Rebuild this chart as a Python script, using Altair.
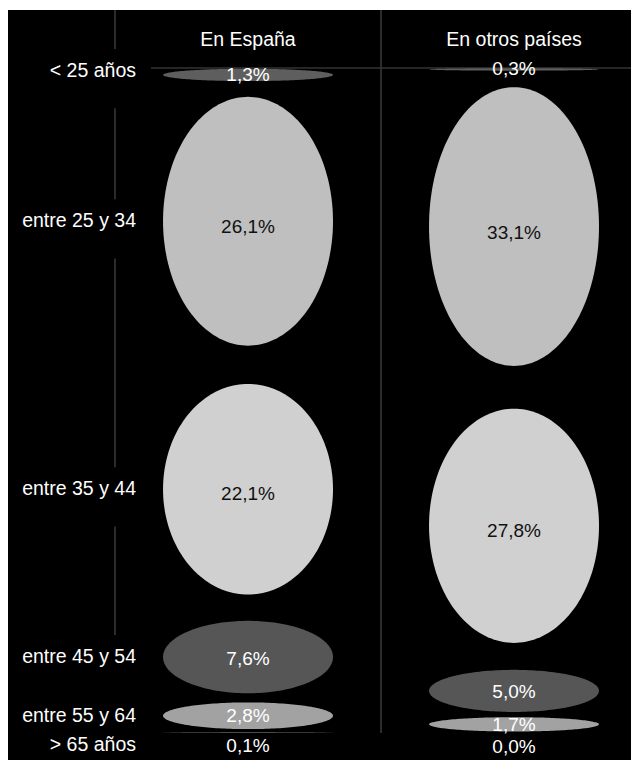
import altair as alt
import pandas as pd

# ---- data -------------------------------------------------------------
columns = ["En España", "En otros países"]
ages = ["< 25 años", "entre 25 y 34", "entre 35 y 44",
        "entre 45 y 54", "entre 55 y 64", "> 65 años"]
espana = [1.3, 26.1, 22.1, 7.6, 2.8, 0.1]
otros = [0.3, 33.1, 27.8, 5.0, 1.7, 0.0]

# ---- style ------------------------------------------------------------
fills = ["#5e5e5e", "#bfbfbf", "#d0d0d0", "#565656", "#a2a2a2", "#4a4a4a"]
FONT = "Liberation Sans"
W, H = 623, 750
X_DOM = [-0.9023, 1.4398]      # column units (columns at 0 and 1)
Y_DOM = [-0.0872, 1.0406]      # share of each column's total (stacked slots)
HALF_W = 0.3195                # ellipse half width in column units
FILL_FRAC = 0.86               # ellipse height as share of its slot
TOP_FRAC = 0.05                # gap above ellipse inside its slot
N = 90                         # outline samples per ellipse

rows = []
for ci, (col, vals) in enumerate(zip(columns, [espana, otros])):
    for ri, (age, v) in enumerate(zip(ages, vals)):
        rows.append(dict(col=col, ci=ci, ri=ri, age=age, value=v))
base_df = pd.DataFrame(rows)
ell_df = base_df.merge(pd.DataFrame({"k": list(range(N + 1))}), how="cross")

xs = alt.Scale(domain=X_DOM, nice=False, zero=False)
ys = alt.Scale(domain=Y_DOM, nice=False, zero=False, reverse=True)


def layout(ch, groupby):
    return (
        ch.transform_joinaggregate(total="sum(value)", groupby=groupby)
        .transform_window(cum="sum(value)", sort=[alt.SortField("ri")],
                          groupby=groupby, frame=[None, 0])
        .transform_calculate(
            slot="datum.value / datum.total",
            top="(datum.cum - datum.value) / datum.total",
        )
        .transform_calculate(
            mid="datum.top + datum.slot / 2",
            cy=f"datum.top + {TOP_FRAC + FILL_FRAC / 2} * datum.slot",
            ry=f"{FILL_FRAC / 2} * datum.slot",
        )
    )


# grid lines
vlines = pd.DataFrame({"x": [-0.5, 0.5], "y": [Y_DOM[0]] * 2, "y2": [1.0, 1.0]})
hline = pd.DataFrame({"x": [X_DOM[0]], "x2": [X_DOM[1]], "y": [0.0]})

vrule = alt.Chart(vlines).mark_rule(color="#2c2c2c", strokeWidth=2).encode(
    x=alt.X("x:Q", scale=xs, axis=None),
    y=alt.Y("y:Q", scale=ys, axis=None),
    y2="y2:Q",
)
hrule = alt.Chart(hline).mark_rule(color="#333333", strokeWidth=1.5).encode(
    x=alt.X("x:Q", scale=xs, axis=None),
    x2="x2:Q",
    y=alt.Y("y:Q", scale=ys, axis=None),
)

# row label positions (Spain column)
row_base = layout(alt.Chart(base_df), ["col"]).transform_filter(
    "datum.ci == 0"
).transform_calculate(
    ly="datum.cy + (datum.ri == 5 ? 0.0195 : 0) - (datum.ri == 0 ? 0.006 : 0)"
).transform_calculate(
    b1="datum.ly - 0.033",
    b2="datum.ly + 0.056",
)

# black boxes behind the row labels (they interrupt the grid lines)
label_boxes = row_base.mark_rect(color="black").encode(
    x=alt.value(0),
    x2=alt.value(143),
    y=alt.Y("b1:Q", scale=ys, axis=None),
    y2="b2:Q",
)

row_labels = row_base.mark_text(
    align="right", baseline="middle", font=FONT, fontSize=19.5, color="white",
).encode(
    x=alt.value(128),
    y=alt.Y("ly:Q", scale=ys, axis=None),
    text="age:N",
)

# ellipses
ellipses = layout(alt.Chart(ell_df), ["col", "k"]).transform_calculate(
    t=f"PI * datum.k / {N}",
).transform_calculate(
    ex=f"datum.ci + {HALF_W} * cos(datum.t)",
    ey="datum.cy - datum.ry * sin(datum.t)",
    ey2="datum.cy + datum.ry * sin(datum.t)",
).mark_area(strokeWidth=0).encode(
    x=alt.X("ex:Q", scale=xs, axis=None),
    y=alt.Y("ey:Q", scale=ys, axis=None, stack=None),
    y2="ey2:Q",
    color=alt.Color("age:N", scale=alt.Scale(domain=ages, range=fills), legend=None),
    detail="col:N",
)

# value labels
value_labels = layout(alt.Chart(base_df), ["col"]).transform_calculate(
    vy="datum.mid + (datum.ri == 5 ? 0.0205 : 0)",
    label="replace(format(datum.value, '.1f'), '.', ',') + '%'",
).mark_text(baseline="middle", align="center", font=FONT, fontSize=19).encode(
    x=alt.X("ci:Q", scale=xs, axis=None),
    y=alt.Y("vy:Q", scale=ys, axis=None),
    text="label:N",
    color=alt.condition("datum.ri == 1 || datum.ri == 2",
                        alt.value("#111111"), alt.value("white")),
)

# column headers
head_df = pd.DataFrame({"col": columns, "ci": [0, 1]})
headers = alt.Chart(head_df).mark_text(
    baseline="middle", align="center", font=FONT, fontSize=19.5, color="white",
).encode(
    x=alt.X("ci:Q", scale=xs, axis=None),
    y=alt.value(30),
    text="col:N",
)

chart = alt.layer(
    vrule, hrule, label_boxes, ellipses, value_labels, row_labels, headers
).properties(
    width=W, height=H, background="white",
    padding={"top": 2, "left": 0, "right": 0, "bottom": 0},
    autosize=alt.AutoSizeParams(type="none"),
).configure_view(fill="black", stroke=None)

chart.save("out.html", embed_options={"renderer": "svg", "actions": False})
